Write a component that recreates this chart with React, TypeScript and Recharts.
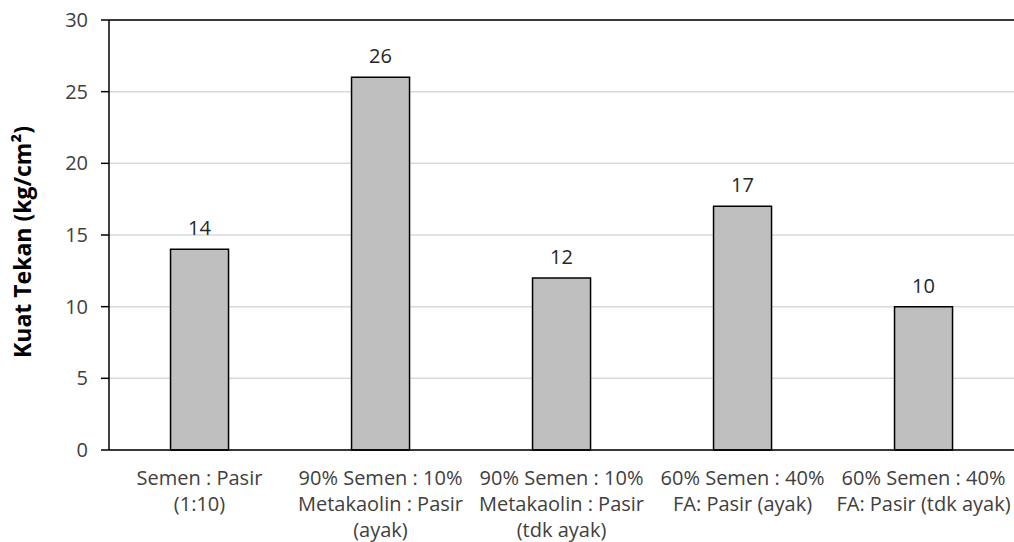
import React from 'react';
import { BarChart, Bar, XAxis, YAxis, CartesianGrid, LabelList, ReferenceLine } from 'recharts';

const categories: string[] = [
  'Semen : Pasir\n(1:10)',
  '90% Semen : 10%\nMetakaolin : Pasir\n(ayak)',
  '90% Semen : 10%\nMetakaolin : Pasir\n(tdk ayak)',
  '60% Semen : 40%\nFA: Pasir (ayak)',
  '60% Semen : 40%\nFA: Pasir (tdk ayak)',
];
const kuatTekan: number[] = [14, 26, 12, 17, 10];
const yTicks: number[] = [0, 5, 10, 15, 20, 25, 30];
const yLabel = 'Kuat Tekan (kg/cm²)';

const data = categories.map((c, i) => ({ name: c, value: kuatTekan[i] }));

const FONT = "'Open Sans', sans-serif";

const XTick = (props: any) => {
  const { x, y, payload } = props;
  const lines = String(payload.value).split('\n');
  return (
    <g>
      {lines.map((l: string, i: number) => (
        <text
          key={i}
          x={x}
          y={y + 35 + i * 26}
          textAnchor="middle"
          fontSize={20}
          fontFamily={FONT}
          fill="#404040"
        >
          {l}
        </text>
      ))}
    </g>
  );
};

const YLabel = (props: any) => {
  const vb = props.viewBox || { x: 0, y: 20, width: 109, height: 430 };
  const cx = vb.x + 31;
  const cy = vb.y + vb.height / 2 + 7;
  return (
    <text
      x={cx}
      y={cy}
      transform={`rotate(-90, ${cx}, ${cy})`}
      textAnchor="middle"
      fontSize={23}
      fontWeight="bold"
      fontFamily={FONT}
      fill="#000000"
    >
      {yLabel}
    </text>
  );
};

export default function App() {
  return (
    <div style={{ position: 'absolute', left: 0, top: 0, width: 1014, height: 542, background: '#fff' }}>
      <BarChart
        width={1014}
        height={542}
        data={data}
        margin={{ top: 20, right: 0, bottom: 0, left: 0 }}
        barCategoryGap="34%"
        style={{ fontFamily: FONT }}
      >
        <CartesianGrid vertical={false} stroke="#D9D9D9" strokeWidth={1.5} />
        <XAxis
          dataKey="name"
          height={92}
          tickLine={false}
          tickSize={0}
          tickMargin={0}
          interval={0}
          tick={<XTick />}
          axisLine={{ stroke: '#000', strokeWidth: 1.5 }}
        />
        <YAxis
          width={109}
          domain={[0, 30]}
          ticks={yTicks}
          interval={0}
          tickSize={8}
          tickMargin={13}
          tickLine={{ stroke: '#000', strokeWidth: 1.5 }}
          axisLine={{ stroke: '#000', strokeWidth: 1.5 }}
          tick={{ fontSize: 20, fill: '#404040', fontFamily: FONT }}
          label={<YLabel />}
        />
        <ReferenceLine y={30} stroke="#000" strokeWidth={1.5} />
        <Bar dataKey="value" fill="#BFBFBF" stroke="#000" strokeWidth={1.5} isAnimationActive={false}>
          <LabelList
            dataKey="value"
            position="top"
            offset={14}
            fontSize={20}
            fill="#262626"
            fontFamily={FONT}
          />
        </Bar>
      </BarChart>
    </div>
  );
}
